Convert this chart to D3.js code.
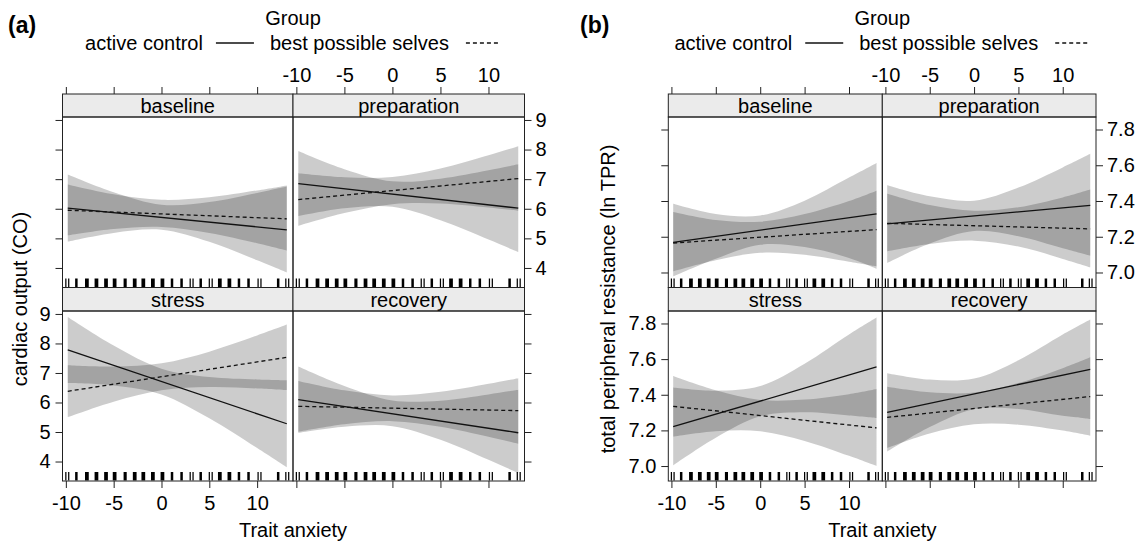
<!DOCTYPE html>
<html>
<head>
<meta charset="utf-8">
<script src="https://cdn.jsdelivr.net/npm/d3@7"></script>
<style>
  body { margin: 0; background: #fff; }
  svg text { font-family: "Liberation Sans", Arial, sans-serif; fill: #000; }
</style>
</head>
<body>
<svg id="chart" width="1141" height="541"></svg>
<script>
const phases = ['baseline', 'preparation', 'stress', 'recovery'];
const groups = ['active control', 'best possible selves'];
const xTicks = [-10, -5, 0, 5, 10];
const bandX = [-9.8, -5, 0, 5, 10, 13.1];
const lineX = [-9.8, 13.1];

// trait anxiety values of the rug (and how heavy each mark looks)
const rugValues  = [-10, -9.7, -8.9, -7.8, -6.8, -5.8, -4.9, -3.8, -2.8, -1.9, -0.9, 0.1, 1.1, 2.1, 3.0, 3.3, 4.1, 5.0, 5.3, 6.1, 7.1, 8.1, 9.1, 10.1, 10.4, 12.2, 13.0, 13.3];
const rugWeights = [1, 1, 2, 3, 3, 3, 3, 2.5, 3, 3, 3, 3, 2, 2, 1, 1, 2, 1, 1, 3, 3, 2, 2, 1, 1, 2, 1, 1];

// (a) cardiac output, rows = baseline, preparation, stress, recovery
const coTicks = [4, 5, 6, 7, 8, 9];
const coCtrlLower = [
  [4.89, 5.185, 5.291, 4.882, 4.26, 3.85],
  [5.75, 6.014, 6.064, 5.61, 4.962, 4.54],
  [6.66, 6.577, 6.274, 5.466, 4.455, 3.805],
  [4.97, 5.177, 5.199, 4.737, 4.058, 3.61]];
const coCtrlUpper = [
  [7.16, 6.561, 6.139, 6.23, 6.536, 6.75],
  [7.95, 7.338, 6.926, 7.018, 7.302, 7.50],
  [8.90, 7.935, 7.146, 6.862, 6.781, 6.755],
  [7.22, 6.563, 6.071, 6.063, 6.274, 6.43]];
const coBpsLower = [
  [5.10, 5.317, 5.386, 5.185, 4.835, 4.59],
  [5.42, 5.853, 6.155, 6.18, 6.044, 5.93],
  [5.50, 6.025, 6.414, 6.523, 6.476, 6.42],
  [5.01, 5.265, 5.368, 5.18, 4.84, 4.605]];
const coBpsUpper = [
  [6.82, 6.489, 6.302, 6.387, 6.619, 6.79],
  [7.20, 7.065, 7.073, 7.358, 7.804, 8.11],
  [7.26, 7.217, 7.33, 7.723, 8.272, 8.64],
  [6.73, 6.411, 6.24, 6.36, 6.632, 6.825]];
const coCtrlLine = [[6.02, 5.29], [6.85, 6.02], [7.78, 5.28], [6.095, 4.975]];
const coBpsLine  = [[5.95, 5.66], [6.31, 7.02], [6.38, 7.53], [5.87, 5.725]];

// (b) ln TPR
const tprTicks = [7.0, 7.2, 7.4, 7.6, 7.8];
const tprCtrlLower = [
  [6.978, 7.077, 7.155, 7.142, 7.081, 7.021],
  [7.053, 7.162, 7.232, 7.203, 7.136, 7.094],
  [7.004, 7.159, 7.279, 7.302, 7.284, 7.27],
  [7.081, 7.219, 7.319, 7.32, 7.282, 7.264]];
const tprCtrlUpper = [
  [7.384, 7.327, 7.319, 7.402, 7.531, 7.613],
  [7.488, 7.426, 7.402, 7.475, 7.588, 7.664],
  [7.441, 7.423, 7.449, 7.574, 7.738, 7.833],
  [7.521, 7.485, 7.491, 7.594, 7.738, 7.822]];
const tprBpsLower = [
  [7.006, 7.068, 7.11, 7.099, 7.06, 7.034],
  [7.118, 7.159, 7.178, 7.145, 7.076, 7.029],
  [7.165, 7.195, 7.195, 7.141, 7.057, 7.0],
  [7.101, 7.182, 7.234, 7.232, 7.199, 7.17]];
const tprBpsUpper = [
  [7.339, 7.294, 7.284, 7.327, 7.40, 7.458],
  [7.44, 7.377, 7.346, 7.365, 7.42, 7.464],
  [7.505, 7.425, 7.371, 7.373, 7.403, 7.432],
  [7.445, 7.414, 7.412, 7.466, 7.549, 7.61]];
const tprCtrlLine = [[7.169, 7.328], [7.272, 7.376], [7.221, 7.556], [7.301, 7.543]];
const tprBpsLine  = [[7.165, 7.24], [7.275, 7.244], [7.335, 7.214], [7.273, 7.39]];

/* layout */
const xDomain = [-10.35, 13.75];
const stripTop = [94, 287.5];
const rows = [[117, 287.5], [311, 481]];
const FS = 20;
const ink = '#222';
const plain = d => String(d);              // keep the ASCII hyphen of the original
const oneDec = d => d.toFixed(1);

const charts = [
  { tag: '(a)', tagX: 8, x0: 62.5, xm: 293, x1: 524.5, yDomain: [3.34, 9.10],
    ticks: coTicks, fmt: plain, ylab: 'cardiac output (CO)', ylabX: 27,
    lo: [coCtrlLower, coBpsLower], hi: [coCtrlUpper, coBpsUpper], lines: [coCtrlLine, coBpsLine] },
  { tag: '(b)', tagX: 580, x0: 668.3, xm: 882.3, x1: 1096, yDomain: [6.916, 7.87],
    ticks: tprTicks, fmt: oneDec, ylab: 'total peripheral resistance (ln TPR)', ylabX: 615,
    lo: [tprCtrlLower, tprBpsLower], hi: [tprCtrlUpper, tprBpsUpper], lines: [tprCtrlLine, tprBpsLine] }
];

const svg = d3.select('#chart');

function styleAxis(ax) {
  ax.select('.domain').remove();
  ax.selectAll('.tick line').attr('stroke', ink);
  ax.selectAll('text').attr('font-size', FS).attr('fill', '#000');
}

function drawChart(cfg) {
  const g = svg.append('g');
  const cols = [[cfg.x0, cfg.xm], [cfg.xm, cfg.x1]];

  phases.forEach((ph, i) => {
    const r = Math.floor(i / 2), c = i % 2;
    const [px0, px1] = cols[c];
    const [py0, py1] = rows[r];
    const x = d3.scaleLinear().domain(xDomain).range([px0, px1]);
    const y = d3.scaleLinear().domain(cfg.yDomain).range([py1, py0]);

    /* strip */
    g.append('rect').attr('x', px0).attr('y', stripTop[r])
      .attr('width', px1 - px0).attr('height', py0 - stripTop[r])
      .attr('fill', '#ebebeb').attr('stroke', ink);
    g.append('text').attr('x', (px0 + px1) / 2).attr('y', py0 - 4)
      .attr('text-anchor', 'middle').attr('font-size', FS).text(ph);

    /* bands */
    groups.forEach((grp, k) => {
      const lo = cfg.lo[k][i], hi = cfg.hi[k][i];
      const area = d3.area()
        .x((d, j) => x(bandX[j]))
        .y0((d, j) => y(lo[j]))
        .y1((d, j) => y(hi[j]))
        .curve(d3.curveCatmullRom);
      g.append('path').datum(lo).attr('d', area)
        .attr('fill', '#000').attr('fill-opacity', 0.2);
    });

    /* fitted lines */
    groups.forEach((grp, k) => {
      const ends = cfg.lines[k][i];
      const line = d3.line().x((d, j) => x(lineX[j])).y(d => y(d));
      g.append('path').datum(ends).attr('d', line)
        .attr('fill', 'none').attr('stroke', '#111').attr('stroke-width', 1.3)
        .attr('stroke-dasharray', k === 1 ? '4,3' : null);
    });

    /* rug */
    g.selectAll(null).data(rugValues).join('line')
      .attr('x1', d => x(d)).attr('x2', d => x(d))
      .attr('y1', py1 - 0.5).attr('y2', py1 - 9)
      .attr('stroke', '#000').attr('stroke-width', (d, j) => rugWeights[j] * 1.25);

    /* frame */
    g.append('rect').attr('x', px0).attr('y', py0)
      .attr('width', px1 - px0).attr('height', py1 - py0)
      .attr('fill', 'none').attr('stroke', ink);

    /* axes */
    if (r === 0) {
      g.append('g').attr('transform', `translate(0,${stripTop[0]})`)
        .call(d3.axisTop(x).tickValues(xTicks).tickSize(7).tickPadding(5)
          .tickFormat(c === 1 ? plain : () => ''))
        .call(styleAxis);
    } else {
      g.append('g').attr('transform', `translate(0,${py1})`)
        .call(d3.axisBottom(x).tickValues(xTicks).tickSize(7).tickPadding(8)
          .tickFormat(c === 0 ? plain : () => ''))
        .call(styleAxis);
    }
    if (c === 0) {
      g.append('g').attr('transform', `translate(${px0},0)`)
        .call(d3.axisLeft(y).tickValues(cfg.ticks).tickSize(7).tickPadding(5)
          .tickFormat(r === 1 ? cfg.fmt : () => ''))
        .call(styleAxis);
    } else {
      g.append('g').attr('transform', `translate(${px1},0)`)
        .call(d3.axisRight(y).tickValues(cfg.ticks).tickSize(7).tickPadding(4)
          .tickFormat(r === 0 ? cfg.fmt : () => ''))
        .call(styleAxis);
    }
  });

  /* titles */
  g.append('text').attr('x', cfg.tagX).attr('y', 33)
    .attr('font-size', 23).attr('font-weight', 700).text(cfg.tag);
  g.append('text').attr('x', cfg.xm).attr('y', 25)
    .attr('text-anchor', 'middle').attr('font-size', FS).text('Group');
  g.append('text').attr('x', cfg.xm).attr('y', 537)
    .attr('text-anchor', 'middle').attr('font-size', FS).text('Trait anxiety');
  g.append('text')
    .attr('transform', `translate(${cfg.ylabX},${(rows[0][0] + rows[1][1]) / 2}) rotate(-90)`)
    .attr('text-anchor', 'middle').attr('font-size', FS).text(cfg.ylab);

  /* legend */
  const leg = g.append('g');
  const t1 = leg.append('text').attr('y', 50).attr('font-size', FS).text(groups[0]);
  const t2 = leg.append('text').attr('y', 50).attr('font-size', FS).text(groups[1]);
  const w1 = t1.node().getComputedTextLength();
  const w2 = t2.node().getComputedTextLength();
  const segA = 38, segB = 35, gapA = 13, gapB = 16, gapC = 17;
  const total = w1 + gapA + segA + gapB + w2 + gapC + segB;
  let lx = cfg.xm - total / 2;
  t1.attr('x', lx); lx += w1 + gapA;
  leg.append('line').attr('x1', lx).attr('x2', lx + segA).attr('y1', 43).attr('y2', 43)
    .attr('stroke', '#111').attr('stroke-width', 1.3);
  lx += segA + gapB;
  t2.attr('x', lx); lx += w2 + gapC;
  leg.append('line').attr('x1', lx).attr('x2', lx + segB).attr('y1', 43).attr('y2', 43)
    .attr('stroke', '#111').attr('stroke-width', 1.3).attr('stroke-dasharray', '4,3');
}

charts.forEach(drawChart);
</script>
</body>
</html>
